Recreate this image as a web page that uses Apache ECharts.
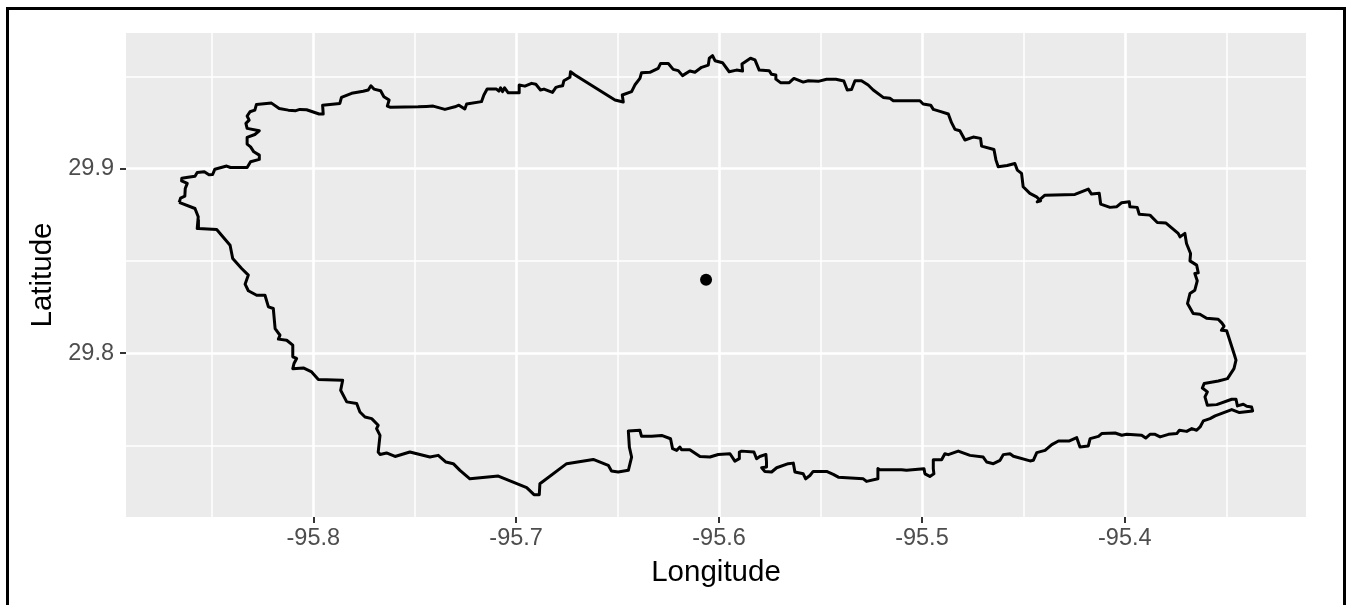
<!DOCTYPE html>
<html><head><meta charset="utf-8">
<style>html,body{margin:0;padding:0;background:#fff}#c{width:1348px;height:605px}</style>
<script src="https://cdn.jsdelivr.net/npm/echarts@6/dist/echarts.min.js"></script>
</head><body><div id="c"></div>
<script>
const xMajor=[-95.8,-95.7,-95.6,-95.5,-95.4];
const xMinor=[-95.85,-95.75,-95.65,-95.55,-95.45,-95.35];
const yMajor=[29.8,29.9];
const yMinor=[29.75,29.85,29.95];
const centerLon=-95.6064, centerLat=29.8398;
const boundaryLon=[-95.8661,-95.8654,-95.8633,-95.8631,-95.8621,-95.8649,-95.8648,-95.8625,-95.8583,-95.8572,-95.8537,-95.8514,-95.8496,-95.8485,-95.8427,-95.8408,-95.8326,-95.8309,-95.8266,-95.8266,-95.8293,-95.8309,-95.8326,-95.8326,-95.8288,-95.8266,-95.8326,-95.8332,-95.8316,-95.8326,-95.8312,-95.8288,-95.8280,-95.8206,-95.8168,-95.8123,-95.8086,-95.8066,-95.8033,-95.7971,-95.7951,-95.7954,-95.7869,-95.7861,-95.7811,-95.7754,-95.7729,-95.7716,-95.7701,-95.7668,-95.7652,-95.7626,-95.7635,-95.7619,-95.7483,-95.7474,-95.7442,-95.7409,-95.7351,-95.7302,-95.7282,-95.7253,-95.7244,-95.7171,-95.7159,-95.7143,-95.7097,-95.7085,-95.7077,-95.7067,-95.7057,-95.7039,-95.6985,-95.6985,-95.6957,-95.6924,-95.6903,-95.6880,-95.6863,-95.6821,-95.6804,-95.6784,
-95.6771,-95.6765,-95.6735,-95.6732,-95.6710,-95.6513,-95.6472,-95.6477,-95.6431,-95.6415,-95.6390,-95.6382,-95.6341,-95.6300,-95.6288,-95.6250,-95.6226,-95.6201,-95.6180,-95.6144,-95.6119,-95.6086,-95.6053,-95.6048,-95.6032,-95.6020,-95.5983,-95.5950,-95.5914,-95.5884,-95.5887,-95.5845,-95.5823,-95.5802,-95.5753,-95.5741,-95.5720,-95.5720,-95.5697,-95.5654,-95.5631,-95.5585,-95.5560,-95.5511,-95.5470,-95.5424,-95.5385,-95.5368,-95.5347,-95.5330,-95.5298,-95.5265,-95.5240,-95.5191,-95.5158,-95.5141,-95.5010,-95.4994,-95.4957,-95.4944,-95.4911,
-95.4870,-95.4854,-95.4837,-95.4813,-95.4788,-95.4747,-95.4711,-95.4706,-95.4645,-95.4635,-95.4624,-95.4580,-95.4542,-95.4530,-95.4509,-95.4501,-95.4468,-95.4435,-95.4415,-95.4432,-95.4394,-95.4246,-95.4205,-95.4180,-95.4164,-95.4126,-95.4119,-95.4073,-95.4041,-95.4016,-95.3978,-95.3975,-95.3939,-95.3929,-95.3876,-95.3840,-95.3797,-95.3737,-95.3728,-95.3704,-95.3696,-95.3676,-95.3679,-95.3646,-95.3638,-95.3655,-95.3643,-95.3655,-95.3679,-95.3691,-95.3663,-95.3630,-95.3597,-95.3540,
-95.3522,-95.3511,-95.3524,-95.3498,-95.3462,-95.3452,-95.3462,-95.3494,-95.3539,-95.3609,-95.3618,-95.3593,-95.3605,-95.3593,-95.3547,-95.3473,-95.3452,-95.3445,-95.3416,-95.3399,-95.3375,-95.3370,-95.3435,-95.3473,-95.3555,-95.3580,-95.3613,-95.3629,-95.3646,-95.3670,-95.3695,-95.3731,-95.3744,-95.3785,-95.3826,-95.3851,-95.3876,-95.3897,-95.3917,-95.3991,-95.4015,-95.4048,-95.4114,-95.4130,-95.4171,-95.4180,-95.4221,-95.4237,-95.4273,-95.4327,-95.4360,-95.4393,-95.4434,-95.4451,-95.4467,-95.4549,-95.4566,-95.4599,-95.4615,
-95.4648,-95.4681,-95.4698,-95.4763,-95.4821,-95.4870,-95.4887,-95.4903,-95.4944,-95.4944,-95.4941,-95.4961,-95.4985,-95.4990,-95.5076,-95.5100,-95.5207,-95.5217,-95.5217,-95.5273,-95.5289,-95.5412,-95.5437,-95.5470,-95.5536,-95.5552,-95.5573,-95.5585,-95.5626,-95.5634,-95.5659,-95.5716,-95.5741,-95.5774,-95.5790,-95.5766,-95.5766,-95.5769,-95.5799,-95.5815,-95.5828,-95.5889,-95.5900,-95.5900,-95.5922,-95.5946,-95.6004,-95.6045,-95.6094,-95.6144,-95.6185,-95.6193,-95.6209,-95.6229,-95.6239,-95.6283,-95.6332,-95.6382,
-95.6390,-95.6447,-95.6442,-95.6431,-95.6447,-95.6497,-95.6530,-95.6546,-95.6620,-95.6751,-95.6883,-95.6886,-95.6912,-95.6948,-95.7088,-95.7228,-95.7277,-95.7310,-95.7346,-95.7384,-95.7425,-95.7524,-95.7597,-95.7639,-95.7671,-95.7680,-95.7671,-95.7688,-95.7680,-95.7712,-95.7745,-95.7770,
-95.7786,-95.7835,-95.7865,-95.7855,-95.7975,-95.8008,-95.8049,-95.8101,-95.8095,-95.8082,-95.8101,-95.8101,-95.8131,-95.8172,-95.8164,-95.8188,-95.8197,-95.8221,-95.8238,-95.8279,-95.8320,-95.8336,-95.8320,-95.8353,-95.8397,-95.8410,-95.8476,-95.8566,-95.8566,-95.8572,-95.8567,-95.8583,-95.8661];
const boundaryLat=[29.8817,29.8840,29.8851,29.8892,29.8920,29.8934,29.8948,29.8952,29.8959,29.8979,29.8983,29.8967,29.8968,29.8997,29.9014,29.9006,29.9006,29.9037,29.9050,29.9073,29.9091,29.9118,29.9133,29.9169,29.9185,29.9205,29.9218,29.9245,29.9263,29.9285,29.9308,29.9317,29.9348,29.9355,29.9326,29.9317,29.9314,29.9321,29.9319,29.9296,29.9296,29.9344,29.9353,29.9386,29.9408,29.9419,29.9426,29.9449,29.9431,29.9422,29.9390,29.9372,29.9339,29.9332,29.9335,29.9344,29.9337,29.9339,29.9321,29.9335,29.9344,29.9323,29.9350,29.9363,29.9399,29.9431,29.9431,29.9420,29.9438,29.9417,29.9438,29.9411,29.9411,29.9453,29.9447,29.9462,29.9457,29.9426,29.9431,29.9413,29.9440,29.9447,
29.9449,29.9476,29.9495,29.9525,29.9507,29.9372,29.9361,29.9399,29.9417,29.9453,29.9489,29.9520,29.9522,29.9543,29.9570,29.9570,29.9538,29.9531,29.9504,29.9529,29.9522,29.9549,29.9561,29.9598,29.9612,29.9585,29.9574,29.9525,29.9534,29.9529,29.9567,29.9598,29.9589,29.9534,29.9531,29.9511,29.9507,29.9485,29.9466,29.9466,29.9489,29.9469,29.9476,29.9473,29.9484,29.9484,29.9475,29.9426,29.9429,29.9476,29.9476,29.9453,29.9426,29.9386,29.9381,29.9368,29.9368,29.9350,29.9344,29.9321,29.9310,
29.9296,29.9249,29.9213,29.9205,29.9155,29.9171,29.9164,29.9122,29.9104,29.9046,29.9010,29.9017,29.9028,29.8992,29.8974,29.8902,29.8866,29.8847,29.8826,29.8820,29.8856,29.8860,29.8878,29.8889,29.8862,29.8866,29.8808,29.8790,29.8793,29.8815,29.8820,29.8793,29.8790,29.8753,29.8748,29.8708,29.8705,29.8649,29.8630,29.8649,29.8594,29.8540,29.8500,29.8477,29.8435,29.8432,29.8392,29.8341,29.8323,29.8269,29.8215,29.8211,29.8189,29.8184,
29.8164,29.8146,29.8124,29.8121,29.7998,29.7962,29.7916,29.7862,29.7849,29.7835,29.7811,29.7790,29.7763,29.7717,29.7721,29.7750,29.7750,29.7714,29.7723,29.7712,29.7708,29.7687,29.7678,29.7694,29.7660,29.7645,29.7633,29.7600,29.7582,29.7591,29.7576,29.7582,29.7564,29.7560,29.7546,29.7560,29.7560,29.7540,29.7555,29.7560,29.7555,29.7567,29.7564,29.7549,29.7537,29.7497,29.7491,29.7542,29.7524,29.7524,29.7504,29.7473,29.7461,29.7419,29.7416,29.7441,29.7455,29.7450,29.7419,
29.7401,29.7410,29.7437,29.7446,29.7469,29.7450,29.7455,29.7422,29.7422,29.7374,29.7346,29.7332,29.7346,29.7374,29.7365,29.7368,29.7368,29.7374,29.7319,29.7305,29.7319,29.7328,29.7343,29.7359,29.7359,29.7337,29.7319,29.7346,29.7356,29.7404,29.7401,29.7379,29.7356,29.7359,29.7379,29.7383,29.7410,29.7451,29.7440,29.7428,29.7464,29.7469,29.7464,29.7428,29.7415,29.7455,29.7451,29.7437,29.7440,29.7477,29.7477,29.7491,29.7473,29.7482,29.7536,29.7554,29.7549,29.7549,
29.7582,29.7578,29.7491,29.7437,29.7365,29.7356,29.7361,29.7392,29.7424,29.7401,29.7292,29.7233,29.7233,29.7271,29.7334,29.7319,29.7365,29.7401,29.7410,29.7446,29.7437,29.7464,29.7440,29.7459,29.7451,29.7464,29.7554,29.7591,29.7609,29.7645,29.7654,29.7681,
29.7727,29.7736,29.7799,29.7853,29.7857,29.7898,29.7920,29.7916,29.7944,29.7971,29.7980,29.8043,29.8070,29.8076,29.8097,29.8133,29.8242,29.8251,29.8314,29.8314,29.8338,29.8374,29.8423,29.8459,29.8513,29.8585,29.8670,29.8676,29.8721,29.8675,29.8739,29.8784,29.8817];
const boundary=boundaryLon.map((v,i)=>[v,boundaryLat[i]]);
const gridLines=[
  ...xMinor.map(v=>({xAxis:v,lineStyle:{width:1.5}})),
  ...yMinor.map(v=>({yAxis:v,lineStyle:{width:1.5}})),
  ...xMajor.map(v=>({xAxis:v,lineStyle:{width:2.6}})),
  ...yMajor.map(v=>({yAxis:v,lineStyle:{width:2.6}}))
];
const font='"Liberation Sans",Arial,sans-serif';
const bar=(x,y,w,h,fill)=>({type:'rect',shape:{x,y,width:w,height:h},style:{fill},silent:true});
const chart=echarts.init(document.getElementById('c'),null,{renderer:'canvas'});
chart.setOption({
  animation:false,
  backgroundColor:'#fff',
  grid:{left:126,top:33,width:1180,height:484,show:true,backgroundColor:'#EBEBEB',borderWidth:0,containLabel:false},
  xAxis:{type:'value',min:-95.8923,max:-95.3107,name:'Longitude',nameLocation:'middle',nameGap:41,
    nameTextStyle:{fontSize:29.5,color:'#000',fontFamily:font},
    axisLine:{show:false},splitLine:{show:false},
    axisTick:{show:true,length:6,customValues:xMajor,lineStyle:{color:'#333',width:2}},
    axisLabel:{customValues:xMajor,fontSize:23.5,color:'#4D4D4D',fontFamily:font,margin:10,formatter:v=>v.toFixed(1)}},
  yAxis:{type:'value',min:29.7112,max:29.9735,name:'Latitude',nameLocation:'middle',nameGap:68,
    nameTextStyle:{fontSize:29.5,color:'#000',fontFamily:font},
    axisLine:{show:false},splitLine:{show:false},
    axisTick:{show:true,length:6,customValues:yMajor,lineStyle:{color:'#333',width:2}},
    axisLabel:{customValues:yMajor,fontSize:23.5,color:'#4D4D4D',fontFamily:font,margin:12,formatter:v=>v.toFixed(1)}},
  series:[
    {type:'line',data:[],z:1,silent:true,markLine:{z:1,silent:true,symbol:'none',label:{show:false},animation:false,
      lineStyle:{color:'#fff',type:'solid'},emphasis:{disabled:true},data:gridLines}},
    {type:'line',data:boundary,z:3,showSymbol:false,symbol:'none',smooth:false,sampling:'none',clip:false,
      lineStyle:{color:'#000',width:3,join:'round'},silent:true},
    {type:'scatter',data:[[centerLon,centerLat]],z:4,symbol:'circle',symbolSize:12,itemStyle:{color:'#000',opacity:1},silent:true}
  ],
  graphic:[
    bar(6,7,1340,3,'#000'),bar(6,7,3,598,'#000'),bar(1343,7,3,598,'#000')
  ]
});
</script></body></html>
